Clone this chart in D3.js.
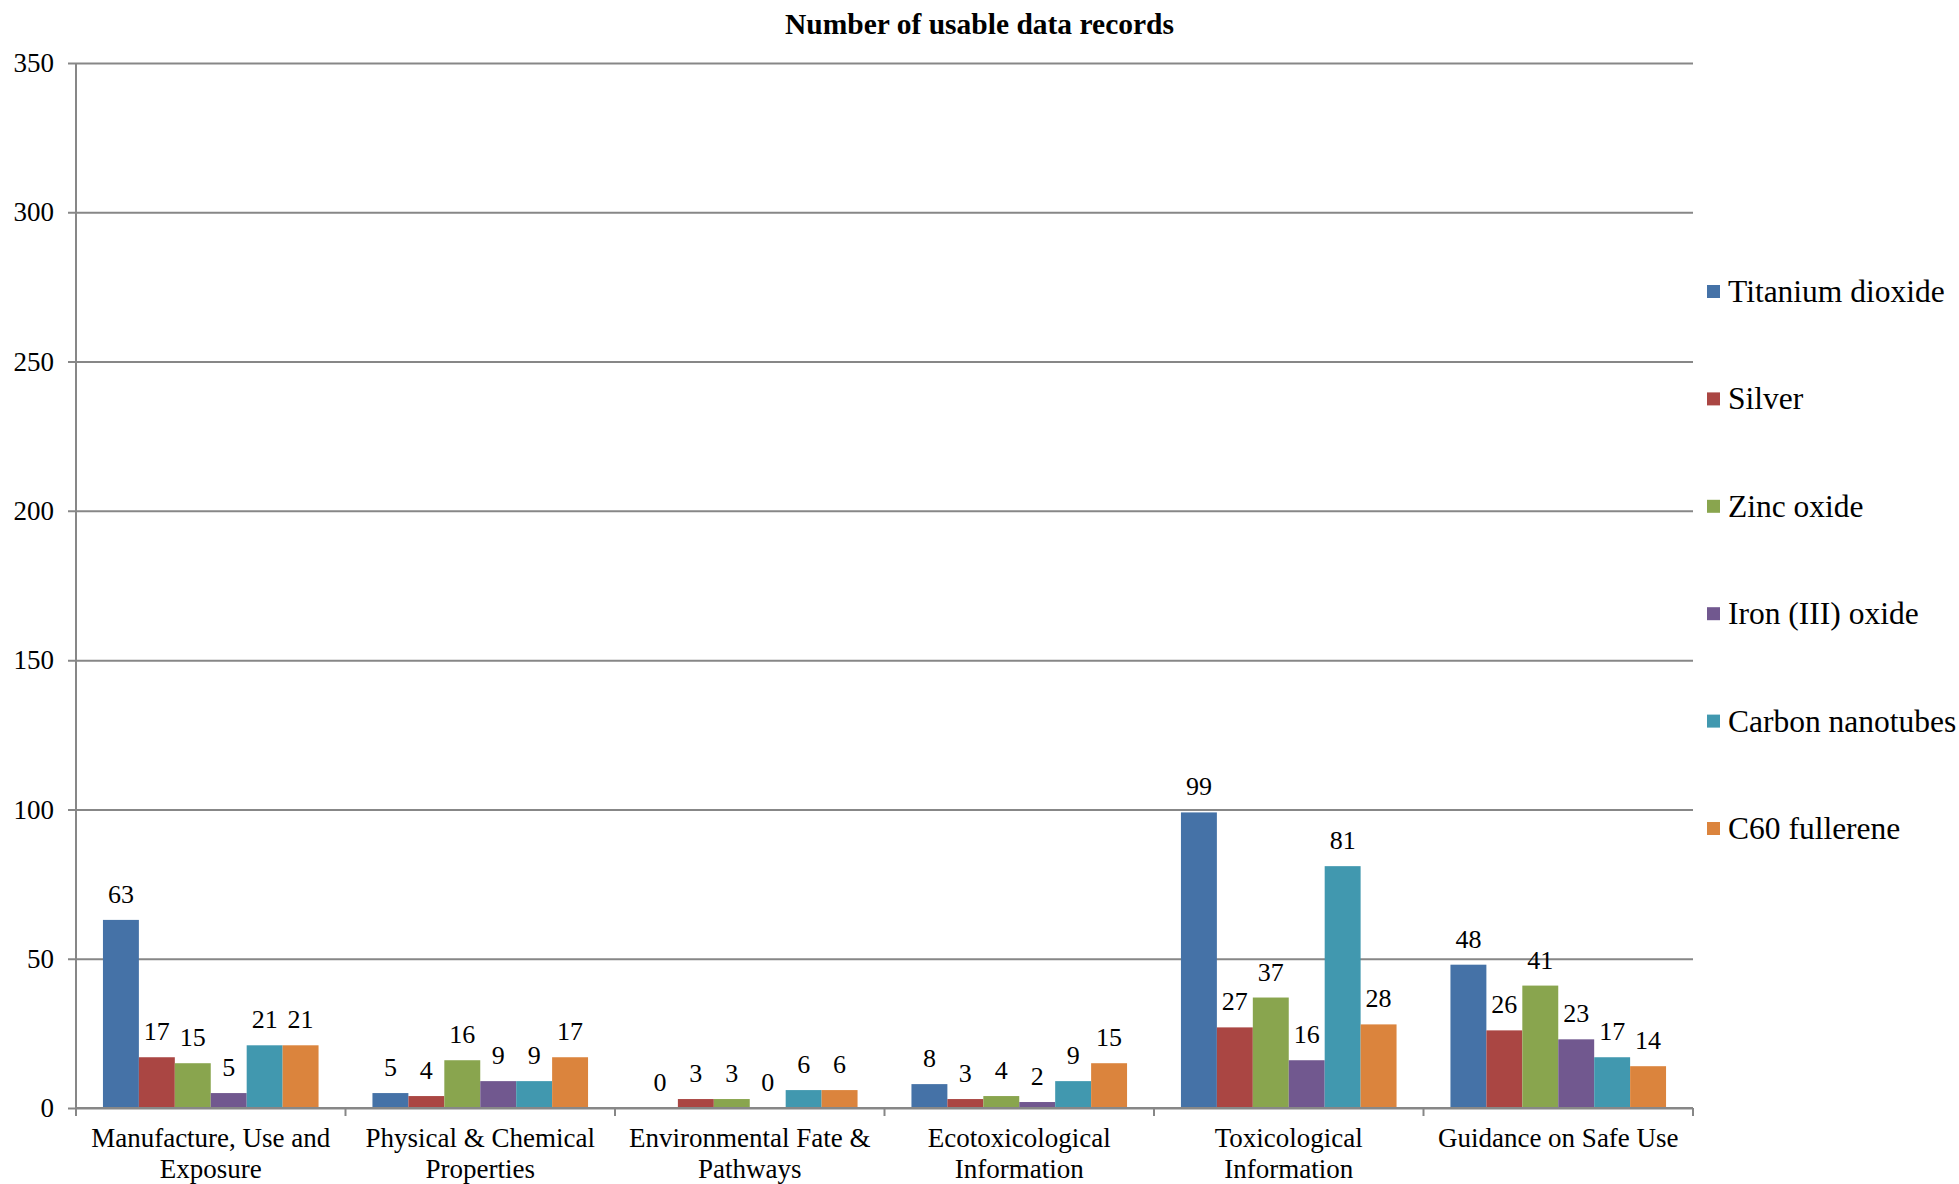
<!DOCTYPE html>
<html>
<head>
<meta charset="utf-8">
<script src="https://cdn.jsdelivr.net/npm/d3@7"></script>
<style>
  html, body { margin: 0; padding: 0; background: #ffffff; }
  svg { display: block; }
  text { font-family: "Liberation Serif", "Times New Roman", serif; fill: #000; }
</style>
</head>
<body>
<svg id="chart" width="1959" height="1184"></svg>
<script>
// Record categories (each entry is the label as it is broken onto lines)
const categories = [
  ["Manufacture, Use and", "Exposure"],
  ["Physical & Chemical", "Properties"],
  ["Environmental Fate &", "Pathways"],
  ["Ecotoxicological", "Information"],
  ["Toxicological", "Information"],
  ["Guidance on Safe Use"]
];

const seriesNames = ["Titanium dioxide", "Silver", "Zinc oxide", "Iron (III) oxide", "Carbon nanotubes", "C60 fullerene"];
const seriesColors = ["#4572A7", "#AA4643", "#89A54E", "#71588F", "#4198AF", "#DB843D"];

// Usable records per category, one array per material
const titaniumDioxide = [63, 5, 0, 8, 99, 48];
const silver          = [17, 4, 3, 3, 27, 26];
const zincOxide       = [15, 16, 3, 4, 37, 41];
const ironOxide       = [5, 9, 0, 2, 16, 23];
const carbonNanotubes = [21, 9, 6, 9, 81, 17];
const c60Fullerene    = [21, 17, 6, 15, 28, 14];

const yTicks = [0, 50, 100, 150, 200, 250, 300, 350];
const title = "Number of usable data records";

const seriesValues = [titaniumDioxide, silver, zincOxide, ironOxide, carbonNanotubes, c60Fullerene];

const svg = d3.select("#chart");
const margin = { left: 76, right: 266, top: 63, bottom: 76 };
const W = 1959, H = 1184;
const x0 = margin.left, x1 = W - margin.right;
const yTop = margin.top, yBot = H - margin.bottom;

const axisColor = "#878787";
const axisFont = 27;
const valueFont = 26;
const legendFont = 31.5;
const titleFont = 29.5;

const x = d3.scaleBand().domain(d3.range(categories.length)).range([x0, x1]).paddingInner(0).paddingOuter(0);
// bars fill the middle 80% of each category slot
const xs = d3.scaleBand().domain(d3.range(seriesNames.length))
  .range([x.bandwidth() * 0.1, x.bandwidth() * 0.9]).padding(0);
const y = d3.scaleLinear().domain([0, 350]).range([yBot, yTop]);

// Title
svg.append("text")
  .attr("x", W / 2).attr("y", 34)
  .attr("text-anchor", "middle")
  .attr("font-weight", "bold")
  .attr("font-size", titleFont)
  .text(title);

// Horizontal gridlines (with small ticks left of the axis)
const yAxis = d3.axisLeft(y).tickValues(yTicks).tickSize(-(x1 - x0)).tickSizeOuter(0).tickPadding(14);
const gy = svg.append("g").attr("transform", `translate(${x0},0)`).call(yAxis);
gy.select(".domain").remove();
gy.selectAll(".tick line").attr("stroke", axisColor).attr("stroke-width", 2).attr("x1", -8);
gy.selectAll(".tick text")
  .attr("font-family", "Liberation Serif, Times New Roman, serif")
  .attr("font-size", axisFont)
  .attr("fill", "#000")
  .attr("x", -22);

// Bars
const groups = svg.append("g").selectAll("g")
  .data(categories.map((c, i) => i))
  .join("g")
  .attr("transform", i => `translate(${x(i)},0)`);

groups.selectAll("rect")
  .data(i => seriesValues.map((vals, s) => ({ s, v: vals[i] })))
  .join("rect")
  .attr("x", d => xs(d.s))
  .attr("width", xs.bandwidth())
  .attr("y", d => y(d.v))
  .attr("height", d => yBot - y(d.v))
  .attr("fill", d => seriesColors[d.s]);

// Value labels above the bars
groups.selectAll("text.val")
  .data(i => seriesValues.map((vals, s) => ({ s, v: vals[i] })))
  .join("text")
  .attr("class", "val")
  .attr("x", d => xs(d.s) + xs.bandwidth() / 2)
  .attr("y", d => y(d.v) - 17)
  .attr("text-anchor", "middle")
  .attr("font-size", valueFont)
  .text(d => d.v);

// Vertical axis line
svg.append("line")
  .attr("x1", x0).attr("x2", x0).attr("y1", yTop).attr("y2", yBot)
  .attr("stroke", axisColor).attr("stroke-width", 2);

// Category axis with ticks at slot boundaries
const xAxisG = svg.append("g");
xAxisG.append("line")
  .attr("x1", x0).attr("x2", x1).attr("y1", yBot).attr("y2", yBot)
  .attr("stroke", axisColor).attr("stroke-width", 2);
xAxisG.selectAll("line.tick")
  .data(d3.range(categories.length + 1))
  .join("line")
  .attr("class", "tick")
  .attr("x1", i => x0 + i * x.step()).attr("x2", i => x0 + i * x.step())
  .attr("y1", yBot).attr("y2", yBot + 8)
  .attr("stroke", axisColor).attr("stroke-width", 2);

xAxisG.selectAll("text.cat")
  .data(categories.map((lines, i) => ({ lines, i })))
  .join("text")
  .attr("class", "cat")
  .attr("text-anchor", "middle")
  .attr("font-size", axisFont)
  .attr("transform", d => `translate(${x(d.i) + x.bandwidth() / 2},${yBot + 39})`)
  .selectAll("tspan")
  .data(d => d.lines)
  .join("tspan")
  .attr("x", 0)
  .attr("y", (t, k) => k * 31)
  .text(t => t);

// Legend
const legend = svg.append("g").attr("transform", `translate(1707,0)`);
const legendY = d3.scalePoint().domain(seriesNames).range([291, 828]);
const li = legend.selectAll("g").data(seriesNames).join("g")
  .attr("transform", d => `translate(0,${legendY(d)})`);
li.append("rect").attr("x", 0).attr("y", -6).attr("width", 13).attr("height", 13)
  .attr("fill", (d, i) => seriesColors[i]);
li.append("text").attr("x", 21).attr("y", 11).attr("font-size", legendFont).text(d => d);
</script>
</body>
</html>
